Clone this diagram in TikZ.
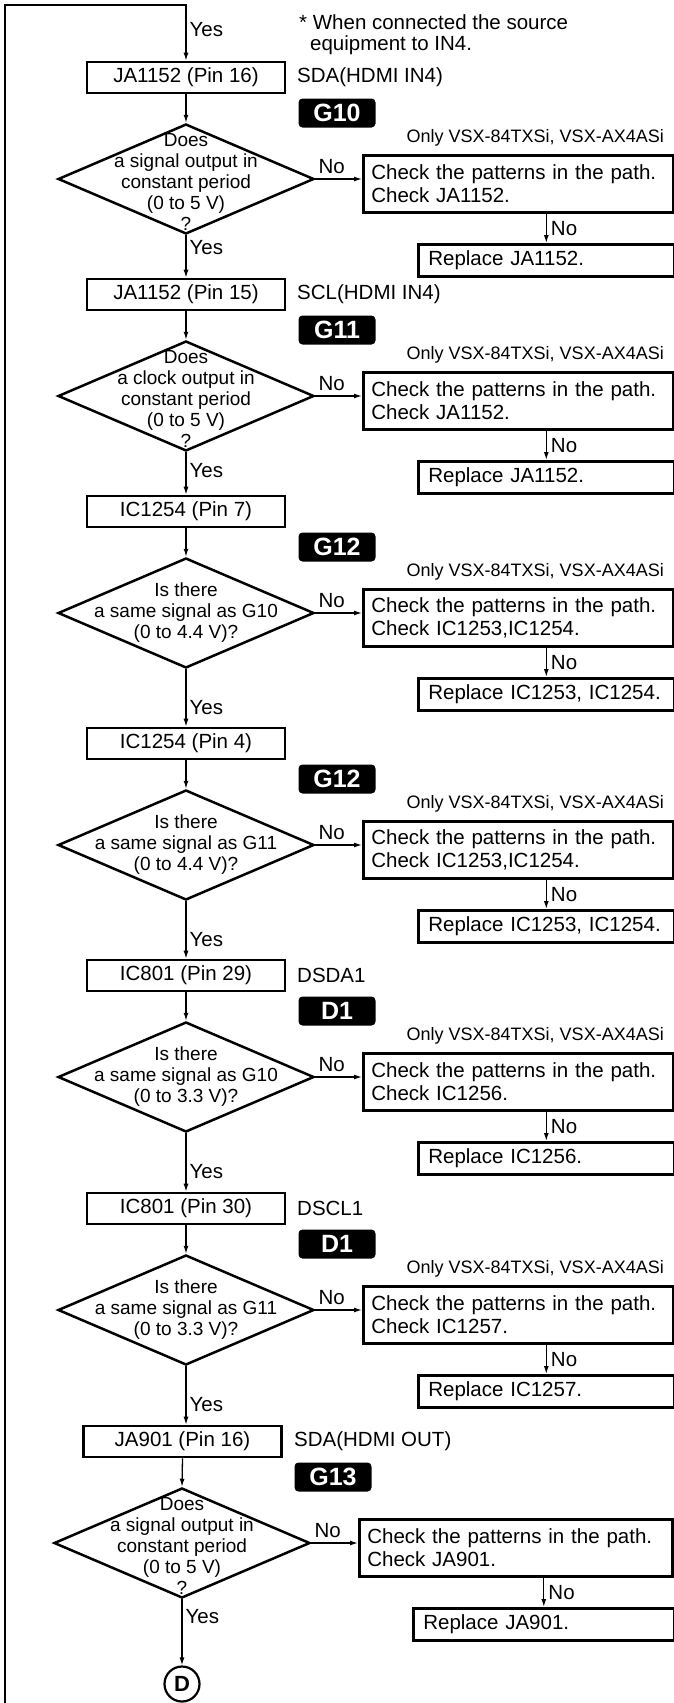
\documentclass[tikz,border=0pt]{standalone}
\usepackage{fontspec}
\setmainfont{Liberation Sans}
\usetikzlibrary{shapes.geometric,arrows.meta}
\tikzset{
  every node/.style={font=\fontsize{20.5}{23}\selectfont},
  mainbox/.style={draw, line width=2.6pt, minimum width=198pt, minimum height=31pt, inner sep=0pt},
  dia/.style={draw, diamond, line width=2.5pt, minimum width=256pt, minimum height=110pt, inner sep=0pt},
  dtext/.style={align=center, font=\fontsize{19}{21}\selectfont, inner sep=0pt},
  chkbox/.style={draw, line width=2.6pt, minimum height=57pt, text width=294pt, inner xsep=8pt, inner ysep=3pt, align=left, anchor=north west},
  repbox/.style={draw, line width=2.6pt, minimum height=32pt, text width=236pt, inner xsep=10pt, inner ysep=2pt, align=left, anchor=north west},
  badge/.style={fill=black, rounded corners=4pt, minimum width=77pt, minimum height=29pt, inner sep=0pt, text=white, font=\bfseries\fontsize{25}{25}\selectfont},
  onlytxt/.style={anchor=east, inner sep=0pt, font=\fontsize{18}{20}\selectfont},
  side/.style={anchor=west, inner sep=0pt},
  arr/.style={line width=1.3pt, -{Latex[length=8pt,width=5pt]}},
  lbl/.style={inner sep=3pt},
  conn/.style={draw, circle, line width=2.2pt, minimum size=35pt, inner sep=0pt, font=\bfseries\fontsize{22}{22}\selectfont},
}
\begin{document}
\begin{tikzpicture}[x=1pt,y=-1pt]
\useasboundingbox (0,0) rectangle (674,1703);

% note
\node[anchor=north west, align=left, inner sep=0pt, font=\fontsize{20.5}{21}\selectfont] (note) at (299,14.5)
  {* When connected the source\\\hspace{11pt}equipment to IN4.};

% ---------- section 1 ----------
\node[mainbox] (b1) at (186,77.5) {JA1152 (Pin 16)};
\node[side] (s1) at (297,77.5) {SDA(HDMI IN4)};
\node[badge] (g1) at (337,113) {G10};
\node[dia, label={[dtext,yshift=-3pt]center:{Does\\a signal output in\\constant period\\(0 to 5 V)\\?}}] (d1) at (186,179) {};
\node[onlytxt] (o1) at (664,138) {Only VSX-84TXSi, VSX-AX4ASi};
\node[chkbox] (c1) at (362,154) {Check the patterns in the path.\\Check JA1152.};
\node[repbox] (r1) at (417,243) {Replace JA1152.};

% ---------- section 2 ----------
\node[mainbox] (b2) at (186,294.5) {JA1152 (Pin 15)};
\node[side] (s2) at (297,294.5) {SCL(HDMI IN4)};
\node[badge] (g2) at (337,330) {G11};
\node[dia, label={[dtext,yshift=-3pt]center:{Does\\a clock output in\\constant period\\(0 to 5 V)\\?}}] (d2) at (186,396) {};
\node[onlytxt] (o2) at (664,355) {Only VSX-84TXSi, VSX-AX4ASi};
\node[chkbox] (c2) at (362,371) {Check the patterns in the path.\\Check JA1152.};
\node[repbox] (r2) at (417,460) {Replace JA1152.};

% ---------- section 3 ----------
\node[mainbox] (b3) at (186,511.5) {IC1254 (Pin 7)};
\node[badge] (g3) at (337,547) {G12};
\node[dia, label={[dtext]center:{Is there\\a same signal as G10\\(0 to 4.4 V)?}}] (d3) at (186,613) {};
\node[onlytxt] (o3) at (664,572) {Only VSX-84TXSi, VSX-AX4ASi};
\node[chkbox] (c3) at (362,588) {Check the patterns in the path.\\Check IC1253,IC1254.};
\node[repbox] (r3) at (417,677) {Replace IC1253, IC1254.};

% ---------- section 4 ----------
\node[mainbox] (b4) at (186,743.5) {IC1254 (Pin 4)};
\node[badge] (g4) at (337,779) {G12};
\node[dia, label={[dtext]center:{Is there\\a same signal as G11\\(0 to 4.4 V)?}}] (d4) at (186,845) {};
\node[onlytxt] (o4) at (664,804) {Only VSX-84TXSi, VSX-AX4ASi};
\node[chkbox] (c4) at (362,820) {Check the patterns in the path.\\Check IC1253,IC1254.};
\node[repbox] (r4) at (417,909) {Replace IC1253, IC1254.};

% ---------- section 5 ----------
\node[mainbox] (b5) at (186,975.5) {IC801 (Pin 29)};
\node[side] (s5) at (297,975.5) {DSDA1};
\node[badge] (g5) at (337,1011) {D1};
\node[dia, label={[dtext]center:{Is there\\a same signal as G10\\(0 to 3.3 V)?}}] (d5) at (186,1077) {};
\node[onlytxt] (o5) at (664,1036) {Only VSX-84TXSi, VSX-AX4ASi};
\node[chkbox] (c5) at (362,1052) {Check the patterns in the path.\\Check IC1256.};
\node[repbox] (r5) at (417,1141) {Replace IC1256.};

% ---------- section 6 ----------
\node[mainbox] (b6) at (186,1208.5) {IC801 (Pin 30)};
\node[side] (s6) at (297,1208.5) {DSCL1};
\node[badge] (g6) at (337,1244) {D1};
\node[dia, label={[dtext]center:{Is there\\a same signal as G11\\(0 to 3.3 V)?}}] (d6) at (186,1310) {};
\node[onlytxt] (o6) at (664,1269) {Only VSX-84TXSi, VSX-AX4ASi};
\node[chkbox] (c6) at (362,1285) {Check the patterns in the path.\\Check IC1257.};
\node[repbox] (r6) at (417,1374) {Replace IC1257.};

% ---------- section 7 ----------
\node[mainbox] (b7) at (182.5,1441.5) {JA901 (Pin 16)};
\node[side] (s7) at (294,1441.5) {SDA(HDMI OUT)};
\node[badge] (g7) at (333,1477) {G13};
\node[dia, label={[dtext,yshift=-3pt]center:{Does\\a signal output in\\constant period\\(0 to 5 V)\\?}}] (d7) at (182,1543) {};
\node[chkbox, text width=297pt] (c7) at (358,1518) {Check the patterns in the path.\\Check JA901.};
\node[repbox, text width=241pt] (r7) at (412,1607) {Replace JA901.};
\node[conn] (dc) at (182,1684) {D};

% ---------- frame / loop-in ----------
\coordinate (fbot) at (5,1704);
\coordinate (ftop) at (5,5);
\draw[arr] (fbot) -- (ftop) -| (b1.north) node[lbl, pos=0.72, right] {Yes};

% ---------- connectors ----------
\foreach \i in {1,...,7}{
  \draw[arr] (b\i.south) -- (d\i.north);
  \draw[arr] (d\i.east) -- (d\i.east -| c\i.west) node[lbl, pos=0.35, above=2pt] {No};
  \draw[arr] (c\i.south -| r\i.north) -- (r\i.north) node[lbl, midway, right=1pt] {No};
}
\draw[arr] (d1.south) -- (b2.north) node[lbl, pos=0.29, right] {Yes};
\draw[arr] (d2.south) -- (b3.north) node[lbl, pos=0.42, right] {Yes};
\draw[arr] (d3.south) -- (b4.north) node[lbl, pos=0.67, right] {Yes};
\draw[arr] (d4.south) -- (b5.north) node[lbl, pos=0.67, right] {Yes};
\draw[arr] (d5.south) -- (b6.north) node[lbl, pos=0.66, right] {Yes};
\draw[arr] (d6.south) -- (d6.south |- b7.north) node[lbl, pos=0.66, right] {Yes};
\draw[arr] (d7.south) -- (dc.north) node[lbl, pos=0.26, right] {Yes};
\end{tikzpicture}
\end{document}
